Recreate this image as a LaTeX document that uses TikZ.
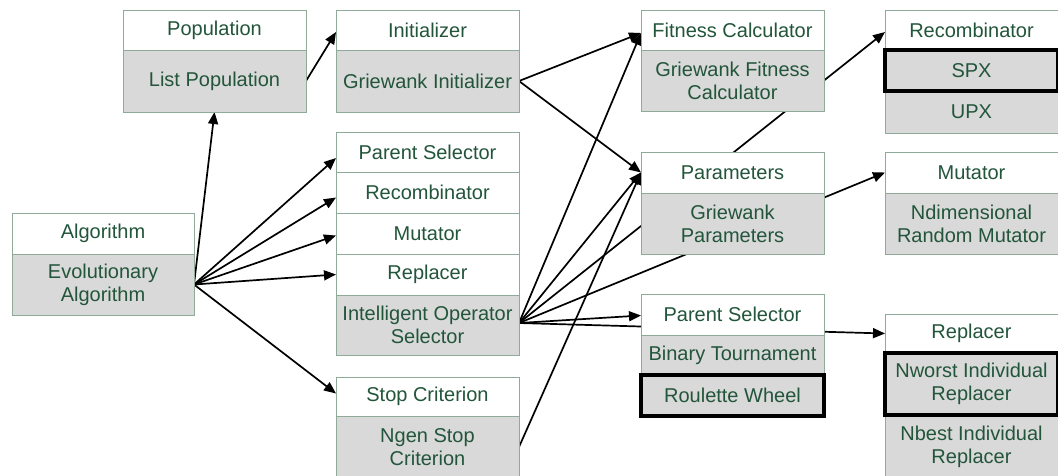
\documentclass[tikz,border=0pt]{standalone}
\usepackage{fontspec}
\setmainfont{Liberation Sans}
\usetikzlibrary{arrows.meta,backgrounds}
\definecolor{celltext}{HTML}{22553A}
\definecolor{cellline}{HTML}{8FAA99}
\definecolor{cellfill}{HTML}{D9D9D9}
\tikzset{
  cell/.style={draw=cellline, line width=1pt, inner sep=0pt, outer sep=0pt,
    anchor=north west, align=center, text=celltext,
    font=\fontsize{20}{23}\selectfont},
  head/.style={cell, fill=white},
  body/.style={cell, fill=cellfill},
  chosen/.style={body, draw=black, line width=4pt},
  link/.style={line width=1.7pt, -{Triangle[length=12pt,width=10pt]}},
}
% \mkcell{style}{name}{left}{top}{width}{height}{text}
\newcommand\mkcell[7]{\node[#1, minimum width=#5pt, minimum height=#6pt] (#2) at (#3,#4) {#7};}
\begin{document}
\begin{tikzpicture}[x=1pt, y=-1pt]
\useasboundingbox (0,0) rectangle (1058,475);

% Population
\mkcell{head}{poph}{123}{10}{183}{40}{Population}
\mkcell{body}{popb}{123}{50}{183}{62}{List Population}
% Initializer
\mkcell{head}{inith}{336}{10}{183}{40}{Initializer}
\mkcell{body}{initb}{336}{50}{183}{62}{Griewank Initializer}
% Fitness calculator
\mkcell{head}{fch}{641}{10}{183}{40}{Fitness Calculator}
\mkcell{body}{fcb}{641}{50}{183}{61}{Griewank Fitness\\Calculator}
% Recombinator (operators)
\mkcell{head}{rrh}{885}{10}{173}{40}{Recombinator}
\mkcell{body}{upx}{885}{91}{173}{42}{UPX}
\mkcell{chosen}{spx}{885}{50}{173}{41}{SPX}

% Algorithm
\mkcell{head}{algh}{12}{213}{182}{41}{Algorithm}
\mkcell{body}{algb}{12}{254}{182}{61}{Evolutionary\\Algorithm}

% Algorithm parts
\mkcell{head}{ps}{336}{132}{183}{40}{Parent Selector}
\mkcell{head}{rec}{336}{172}{183}{41}{Recombinator}
\mkcell{head}{mut}{336}{213}{183}{41}{Mutator}
\mkcell{head}{rep}{336}{254}{183}{41}{Replacer}
\mkcell{body}{ios}{336}{295}{183}{60}{Intelligent Operator\\Selector}

% Stop criterion
\mkcell{head}{stoph}{336}{377}{183}{39}{Stop Criterion}
\mkcell{body}{stopb}{336}{416}{183}{62}{Ngen Stop\\Criterion}

% Parameters
\mkcell{head}{parh}{641}{152}{183}{41}{Parameters}
\mkcell{body}{parb}{641}{193}{183}{61}{Griewank\\Parameters}

% Mutator (operator)
\mkcell{head}{mrh}{885}{152}{173}{41}{Mutator}
\mkcell{body}{mrb}{885}{193}{173}{61}{Ndimensional\\Random Mutator}

% Parent selector (operators)
\mkcell{head}{psh}{641}{294}{183}{41}{Parent Selector}
\mkcell{body}{bt}{641}{335}{183}{40}{Binary Tournament}
\mkcell{chosen}{rw}{641}{375}{183}{41}{Roulette Wheel}

% Replacer (operators)
\mkcell{head}{rph}{885}{314}{173}{39}{Replacer}
\mkcell{body}{nbest}{885}{415}{173}{63}{Nbest Individual\\Replacer}
\mkcell{chosen}{nworst}{885}{353}{173}{62}{Nworst Individual\\Replacer}

% Connectors, drawn beneath the boxes
\begin{pgfonlayer}{background}
  \draw[link] (popb.east) -- ([yshift=-2pt]inith.west);
  \draw[link] (algb.east) -- (popb.south);
  \draw[link] (algb.east) -- ([yshift=-6pt]ps.west);
  \draw[link] (algb.east) -- ([yshift=-5pt]rec.west);
  \draw[link] (algb.east) -- ([yshift=-2pt]mut.west);
  \draw[link] (algb.east) -- (rep.west);
  \draw[link] (algb.east) -- ([yshift=3pt]stoph.west);

  \draw[link] (initb.east) -- ([yshift=-3pt]fch.west);
  \draw[link] (initb.east) -- (parh.west);

  \coordinate (iosout) at ([yshift=2pt]ios.east);
  \draw[link] (iosout) -- ([yshift=-3pt]fch.west);
  \draw[link] (iosout) -- (parh.west);
  \draw[link] (iosout) -- ([yshift=-2pt]rrh.west);
  \draw[link] (iosout) -- (mrh.west);
  \draw[link] (iosout) -- ([yshift=-1pt]psh.west);
  \draw[link] (iosout) -- (rph.west);

  \draw[link] (stopb.east) -- (parh.west);
\end{pgfonlayer}
\end{tikzpicture}
\end{document}
